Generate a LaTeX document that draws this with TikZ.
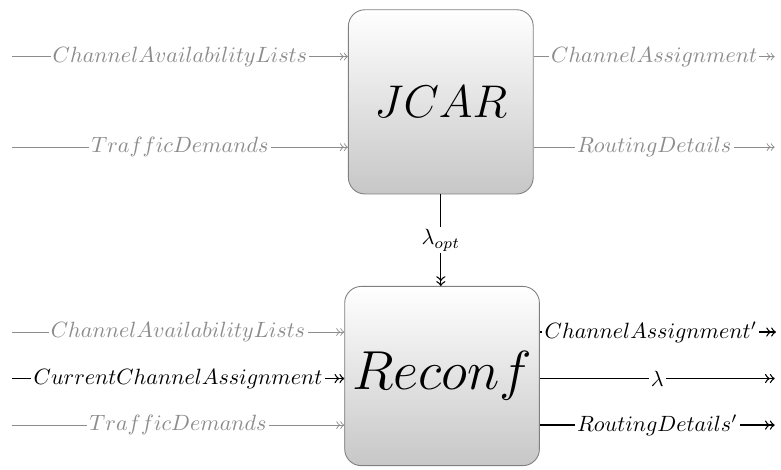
\documentclass[tikz,border=0pt]{standalone}
\usetikzlibrary{positioning}

\begin{document}
\begin{tikzpicture}[>=to,
  block/.style={draw=black!50, rounded corners=7.5pt, top color=white,
    bottom color=black!22, minimum width=2.94cm, minimum height=2.93cm},
  dim/.style={black!45},
  bold/.style={semithick},
  lbl/.style={fill=white, inner sep=1pt}]
  \useasboundingbox (-7.01,1.62) rectangle (5.41,-5.84);
  \node[block] (jcar) at (0,0) {\huge $JCAR$};
  \node[block, minimum width=3.02cm, minimum height=2.85cm]
    (reconf) at (0.02,-4.36) {\Huge $Reconf$};
  % free ends
  \coordinate (ja)  at (-6.82,0.72);
  \coordinate (jt)  at (-6.82,-0.72);
  \coordinate (jc)  at (5.31,0.72);
  \coordinate (jr)  at (5.31,-0.72);
  \coordinate (ra)  at (-6.82,-3.66);
  \coordinate (rc)  at (-6.82,-4.40);
  \coordinate (rt)  at (-6.82,-5.14);
  \coordinate (rca) at (5.33,-3.66);
  \coordinate (rl)  at (5.31,-4.40);
  \coordinate (rr)  at (5.31,-5.14);
  % JCAR
  \draw[dim,->>] (ja) -- node[lbl] {$ChannelAvailabilityLists$} (ja -| jcar.west);
  \draw[dim,->>] (jt) -- node[lbl] {$TrafficDemands$} (jt -| jcar.west);
  \draw[dim,->>] (jcar.east |- jc) -- node[lbl] {$ChannelAssignment$} (jc);
  \draw[dim,->>] (jcar.east |- jr) -- node[lbl] {$RoutingDetails$} (jr);
  \draw[bold,->>] (jcar.south) -- node[lbl] {$\lambda_{opt}$} (jcar.south |- reconf.north);
  % Reconf
  \draw[dim,->>] (ra) -- node[lbl] {$ChannelAvailabilityLists$} (ra -| reconf.west);
  \draw[bold,->>] (rc) -- node[lbl] {$CurrentChannelAssignment$} (rc -| reconf.west);
  \draw[dim,->>] (rt) -- node[lbl] {$TrafficDemands$} (rt -| reconf.west);
  \draw[bold,->>] (reconf.east |- rca) -- node[lbl, pos=0.47] {$ChannelAssignment'$} (rca);
  \draw[bold,->>] (reconf.east |- rl) -- node[lbl] {$\lambda$} (rl);
  \draw[bold,->>] (reconf.east |- rr) -- node[lbl] {$RoutingDetails'$} (rr);
\end{tikzpicture}
\end{document}
